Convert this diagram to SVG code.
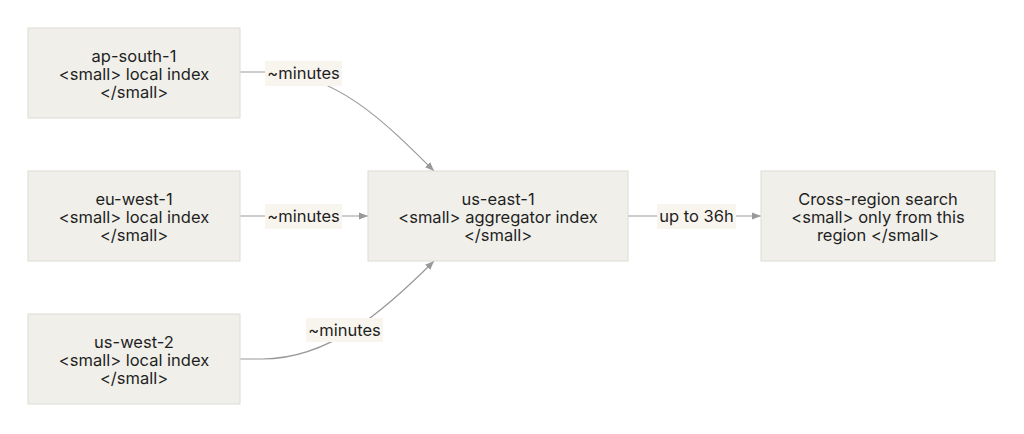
<svg xmlns="http://www.w3.org/2000/svg" width="1024" height="434" viewBox="0 0 1024 434">
<style>
.box{fill:#f0efea;stroke:#dcdcd6;stroke-width:1}
.t{font-family:Inter,"Liberation Sans",sans-serif;font-size:16.5px;fill:#1f1f1f;text-anchor:middle}
.e{fill:none;stroke:#999;stroke-width:1.2}
.lb{fill:#f8f4ee}
</style>
<defs>
<marker id="ah" viewBox="0 0 10 10" refX="10" refY="5" markerWidth="9" markerHeight="9" markerUnits="userSpaceOnUse" orient="auto">
<path d="M0,1 L10,5 L0,9 z" fill="#999"/>
</marker>
</defs>
<rect width="1024" height="434" fill="#fff"/>
<g id="connectors">
<path class="e" d="M240,72 L268,72 C335,72 385,122 434,171" marker-end="url(#ah)"/>
<path class="e" d="M240,216 L368,216" marker-end="url(#ah)"/>
<path class="e" d="M240,359 L262,359 C330,359 385,310 434,261" marker-end="url(#ah)"/>
<path class="e" d="M628,216 L761,216" marker-end="url(#ah)"/>
<rect class="lb" x="265" y="61" width="77" height="25"/>
<text class="t" x="303.5" y="79">~minutes</text>
<rect class="lb" x="265" y="204" width="77" height="25"/>
<text class="t" x="303.5" y="222">~minutes</text>
<rect class="lb" x="306" y="318" width="77" height="24"/>
<text class="t" x="344.5" y="336">~minutes</text>
<rect class="lb" x="657" y="204" width="79" height="25"/>
<text class="t" x="696.5" y="222">up to 36h</text>
</g>
<g id="ap-south-1">
<rect class="box" x="28" y="28" width="212" height="90"/>
<text class="t" x="134" y="62">ap-south-1</text>
<text class="t" x="134" y="80">&lt;small&gt; local index</text>
<text class="t" x="134" y="98">&lt;/small&gt;</text>
</g>
<g id="eu-west-1">
<rect class="box" x="28" y="171" width="212" height="90"/>
<text class="t" x="134" y="205">eu-west-1</text>
<text class="t" x="134" y="223">&lt;small&gt; local index</text>
<text class="t" x="134" y="241">&lt;/small&gt;</text>
</g>
<g id="us-west-2">
<rect class="box" x="28" y="314" width="212" height="90"/>
<text class="t" x="134" y="348">us-west-2</text>
<text class="t" x="134" y="366">&lt;small&gt; local index</text>
<text class="t" x="134" y="384">&lt;/small&gt;</text>
</g>
<g id="us-east-1">
<rect class="box" x="368" y="171" width="260" height="90"/>
<text class="t" x="498" y="205">us-east-1</text>
<text class="t" x="498" y="223">&lt;small&gt; aggregator index</text>
<text class="t" x="498" y="241">&lt;/small&gt;</text>
</g>
<g id="cross-region">
<rect class="box" x="761" y="171" width="234" height="90"/>
<text class="t" x="878" y="205">Cross-region search</text>
<text class="t" x="878" y="223">&lt;small&gt; only from this</text>
<text class="t" x="878" y="241">region &lt;/small&gt;</text>
</g>
</svg>
